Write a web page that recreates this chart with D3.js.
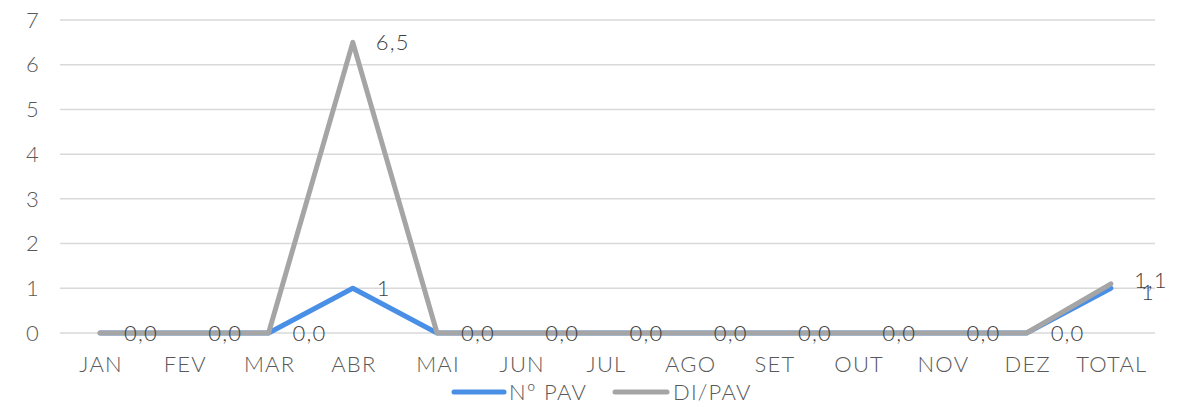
<!DOCTYPE html>
<html><head><meta charset="utf-8">
<script src="https://cdn.jsdelivr.net/npm/d3@7"></script>
<style>
body{margin:0;background:#fff;}
text{font-family:"Lato","Open Sans",sans-serif;font-weight:300;letter-spacing:1.2px;}
</style></head>
<body><svg id="c" width="1188" height="407"></svg>
<script>
const categories=["JAN","FEV","MAR","ABR","MAI","JUN","JUL","AGO","SET","OUT","NOV","DEZ","TOTAL"];
const nPav=[0,0,0,1,0,0,0,0,0,0,0,0,1];
const diPav=[0,0,0,6.5,0,0,0,0,0,0,0,0,1.1];
const yTicks=[0,1,2,3,4,5,6,7];
const seriesNames=["Nº PAV","DI/PAV"];
const colors=["#4a8fe6","#a5a5a5"];

const svg=d3.select("#c");
const m={l:60,r:1155,t:20,b:333};
const x=d3.scaleBand().domain(categories).range([m.l,m.r]);
const y=d3.scaleLinear().domain([0,7]).range([m.b,m.t]);
const cx=c=>x(c)+x.bandwidth()/2-2;

svg.append("g").selectAll("line").data(yTicks).join("line")
 .attr("x1",m.l).attr("x2",m.r).attr("y1",d=>y(d)).attr("y2",d=>y(d))
 .attr("stroke","#d9d9d9").attr("stroke-width",1.5);
svg.append("g").selectAll("text").data(yTicks).join("text")
 .attr("x",40).attr("y",d=>y(d)).attr("dy","0.35em").attr("text-anchor","end")
 .attr("font-size",22).attr("fill","#595959").text(d=>d);
svg.append("g").selectAll("text").data(categories).join("text")
 .attr("x",c=>cx(c)+1).attr("y",364).attr("dy","0.35em").attr("text-anchor","middle")
 .attr("font-size",22).attr("fill","#595959").text(d=>d);

const line=d3.line().x((d,i)=>cx(categories[i])).y(d=>y(d));
[nPav,diPav].forEach((s,k)=>{
 svg.append("path").datum(s).attr("d",line).attr("fill","none")
  .attr("stroke",colors[k]).attr("stroke-width",5)
  .attr("stroke-linejoin","round").attr("stroke-linecap","round");
});
const fmt=v=>String(v.toFixed(1)).replace(".",",");
svg.append("g").selectAll("text").data(nPav.map((v,i)=>({v,i})).filter(d=>d.v!==0)).join("text")
 .attr("x",d=>cx(categories[d.i])+(d.i===12?30:24)).attr("y",d=>y(d.v)+(d.i===12?4:0)).attr("dy","0.35em")
 .attr("font-size",22).attr("fill","#404040").text(d=>d.v);
svg.append("g").selectAll("text").data(diPav.map((v,i)=>({v,i}))).join("text")
 .attr("x",d=>cx(categories[d.i])+(d.v===0?24:23)).attr("y",d=>y(d.v)-(d.i===12?4:0)).attr("dy","0.35em")
 .attr("font-size",22).attr("fill","#404040").text(d=>fmt(d.v));

const lg=svg.append("g");
const items=[{x:454,w:50,tx:509},{x:615,w:52,tx:673}];
items.forEach((it,k)=>{
 lg.append("line").attr("x1",it.x).attr("x2",it.x+it.w).attr("y1",392).attr("y2",392)
  .attr("stroke",colors[k]).attr("stroke-width",5).attr("stroke-linecap","round");
 lg.append("text").attr("x",it.tx).attr("y",392).attr("dy","0.35em")
  .attr("font-size",22).attr("fill","#595959").text(seriesNames[k]);
});
</script></body></html>
